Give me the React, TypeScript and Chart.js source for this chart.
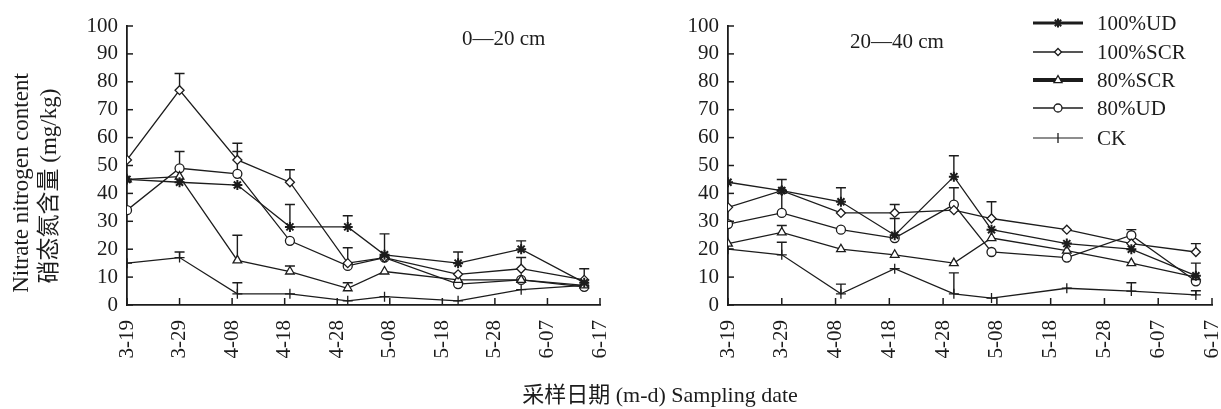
import React, { useEffect, useRef } from 'react';
import { Chart, registerables } from 'chart.js';

Chart.register(...registerables);

// ---------- data ----------
const sampleDates = ['3-19', '3-29', '4-09', '4-19', '4-30', '5-07', '5-21', '6-02', '6-14'];
const tickLabels = ['3-19', '3-29', '4-08', '4-18', '4-28', '5-08', '5-18', '5-28', '6-07', '6-17'];
const yTickValues = [0, 10, 20, 30, 40, 50, 60, 70, 80, 90, 100];
const seriesNames = ['100%UD', '100%SCR', '80%SCR', '80%UD', 'CK'];

// 0—20 cm
const ud100Top = [45, 44, 43, 28, 28, 18, 15, 20, 8];
const scr100Top = [52, 77, 52, 44, 15, 17, 11, 13, 9];
const scr80Top = [45, 46, 16, 12, 6, 12, 9, 9, 7];
const ud80Top = [34, 49, 47, 23, 14, 17, 7.5, 9, 6.5];
const ckTop = [15, 17, 4, 4, 1.5, 3, 1.5, 5.5, 7];

const ud100TopErr = [0, 0, 0, 8, 4, 7.5, 4, 3, 0];
const scr100TopErr = [0, 6, 6, 4.5, 5.5, 0, 0, 4, 4];
const scr80TopErr = [0, 0, 9, 2, 2, 0, 0, 0, 0];
const ud80TopErr = [0, 6, 8, 0, 0, 0, 0, 0, 0];
const ckTopErr = [0, 2, 4, 0, 0, 0, 0, 0, 0];

// 20—40 cm
const ud100Sub = [44, 41, 37, 25, 46, 27, 22, 20, 10.5];
const scr100Sub = [35, 41, 33, 33, 34, 31, 27, 22, 19];
const scr80Sub = [22, 26, 20, 18, 15, 24, 19.5, 15, 10];
const ud80Sub = [29, 33, 27, 24, 36, 19, 17, 25, 8.5];
const ckSub = [20, 18, 4, 13, 4, 2.5, 6, 5, 3.6];

const ud100SubErr = [0, 4, 5, 6, 7.5, 0, 0, 0, 4.5];
const scr100SubErr = [0, 0, 0, 3, 0, 6, 0, 0, 3];
const scr80SubErr = [0, 2.5, 0, 0, 0, 0, 0, 0, 0];
const ud80SubErr = [0, 7, 0, 0, 6, 0, 0, 2, 0];
const ckSubErr = [0, 4.5, 3.5, 0, 7.5, 0, 0, 3, 1.5];

const yTitleLines = ['Nitrate nitrogen content', '硝态氮含量 (mg/kg)'];
const xTitle = '采样日期 (m-d) Sampling date';
const depthTop = '0—20 cm';
const depthSub = '20—40 cm';

// ---------- styles ----------
const FONT = "'Liberation Serif', 'Times New Roman', 'Noto Sans CJK SC', serif";
const INK = '#1c1c1c';
const pointStyles = ['star', 'rectRot', 'triangle', 'circle', 'cross'];
const pointRadii = [5, 4.5, 5, 4.5, 5];
const pointWidths = [2, 1.3, 1.3, 1.3, 1.3];
const legendLineWidths = [3, 1.5, 4, 1.5, 1.2];
const legendRadii = [4.5, 3.5, 4.5, 4, 5];

function dayOf(md: string): number {
  const [m, d] = md.split('-').map(Number);
  const start = [0, 0, 0, -19, 12, 42, 73];
  return start[m] + d;
}

function drawMarker(ctx: CanvasRenderingContext2D, style: string, x: number, y: number, r: number) {
  ctx.beginPath();
  if (style === 'circle') {
    ctx.arc(x, y, r, 0, Math.PI * 2);
    ctx.fill();
    ctx.stroke();
  } else if (style === 'rectRot') {
    ctx.moveTo(x, y - r);
    ctx.lineTo(x + r, y);
    ctx.lineTo(x, y + r);
    ctx.lineTo(x - r, y);
    ctx.closePath();
    ctx.fill();
    ctx.stroke();
  } else if (style === 'triangle') {
    ctx.moveTo(x, y - r);
    ctx.lineTo(x + r * 0.9, y + r * 0.6);
    ctx.lineTo(x - r * 0.9, y + r * 0.6);
    ctx.closePath();
    ctx.fill();
    ctx.stroke();
  } else if (style === 'star') {
    for (let k = 0; k < 4; k++) {
      const a = (k * Math.PI) / 4;
      ctx.moveTo(x - Math.cos(a) * r, y - Math.sin(a) * r);
      ctx.lineTo(x + Math.cos(a) * r, y + Math.sin(a) * r);
    }
    ctx.stroke();
  } else {
    ctx.moveTo(x, y - r);
    ctx.lineTo(x, y + r);
    ctx.stroke();
  }
}

type PanelSpec = {
  values: number[][];
  errors: number[][];
  depth: string;
  depthX: number;
  depthY: number;
  yWidth: number;
  padRight: number;
  showYTitle: boolean;
  showLegend: boolean;
};

function makeConfig(p: PanelSpec): any {
  const errorBars = {
    id: 'errorBars',
    beforeDatasetsDraw(chart: any) {
      const ctx = chart.ctx;
      const ys = chart.scales.y;
      ctx.save();
      ctx.strokeStyle = INK;
      ctx.lineWidth = 1.4;
      chart.data.datasets.forEach((ds: any, di: number) => {
        const meta = chart.getDatasetMeta(di);
        ds.data.forEach((pt: any, i: number) => {
          const e = ds.errors ? ds.errors[i] : 0;
          if (!e) return;
          const x = meta.data[i].x;
          const y0 = ys.getPixelForValue(pt.y);
          const y1 = ys.getPixelForValue(pt.y + e);
          ctx.beginPath();
          ctx.moveTo(x, y0);
          ctx.lineTo(x, y1);
          ctx.moveTo(x - 5, y1);
          ctx.lineTo(x + 5, y1);
          ctx.stroke();
        });
      });
      ctx.restore();
    },
  };

  const decorations = {
    id: 'decorations',
    afterDraw(chart: any) {
      const ctx = chart.ctx;
      const xs = chart.scales.x;
      const ys = chart.scales.y;
      const area = chart.chartArea;
      ctx.save();
      ctx.strokeStyle = INK;
      ctx.lineWidth = 1.5;
      // inward tick marks
      ys.ticks.forEach((t: any) => {
        const y = ys.getPixelForValue(t.value);
        ctx.beginPath();
        ctx.moveTo(area.left, y);
        ctx.lineTo(area.left + 6, y);
        ctx.stroke();
      });
      xs.ticks.forEach((t: any) => {
        const x = xs.getPixelForValue(t.value);
        ctx.beginPath();
        ctx.moveTo(x, area.bottom);
        ctx.lineTo(x, area.bottom - 7);
        ctx.stroke();
      });
      // depth label
      ctx.fillStyle = INK;
      ctx.font = `21px ${FONT}`;
      ctx.textAlign = 'left';
      ctx.textBaseline = 'middle';
      ctx.fillText(p.depth, p.depthX, p.depthY);
      // y title
      if (p.showYTitle) {
        const pos = [
          [22, 183],
          [50, 186],
        ];
        yTitleLines.forEach((line, i) => {
          ctx.save();
          ctx.translate(pos[i][0], pos[i][1]);
          ctx.rotate(-Math.PI / 2);
          ctx.textAlign = 'center';
          ctx.textBaseline = 'middle';
          ctx.font = `23px ${FONT}`;
          ctx.fillText(line, 0, 0);
          ctx.restore();
        });
      }
      // legend
      if (p.showLegend) {
        const rows = [23, 52, 80, 108, 138];
        const x1 = 418;
        const x2 = 468;
        seriesNames.forEach((name, i) => {
          const y = rows[i];
          ctx.lineWidth = legendLineWidths[i];
          ctx.beginPath();
          ctx.moveTo(x1, y);
          ctx.lineTo(x2, y);
          ctx.stroke();
          ctx.lineWidth = i === 0 ? 2 : 1.3;
          ctx.fillStyle = '#fff';
          drawMarker(ctx, pointStyles[i], (x1 + x2) / 2, y, legendRadii[i]);
          ctx.fillStyle = INK;
          ctx.font = `21px ${FONT}`;
          ctx.textAlign = 'left';
          ctx.textBaseline = 'middle';
          ctx.fillText(name, 482, y + 1);
        });
      }
      ctx.restore();
    },
  };

  return {
    type: 'line',
    data: {
      datasets: seriesNames.map((name, s) => ({
        label: name,
        data: sampleDates.map((d, i) => ({ x: dayOf(d), y: p.values[s][i] })),
        errors: p.errors[s],
        borderColor: INK,
        borderWidth: 1.3,
        pointStyle: pointStyles[s],
        pointRadius: pointRadii[s],
        pointBorderWidth: pointWidths[s],
        pointBackgroundColor: '#fff',
        pointBorderColor: INK,
        tension: 0,
        fill: false,
      })),
    },
    options: {
      animation: false,
      responsive: false,
      maintainAspectRatio: false,
      layout: { padding: { left: 0, top: 26, right: p.padRight, bottom: 0 } },
      plugins: { legend: { display: false }, tooltip: { enabled: false } },
      scales: {
        x: {
          type: 'linear',
          min: 0,
          max: 90,
          afterBuildTicks: (scale: any) => {
            scale.ticks = tickLabels.map((l) => ({ value: dayOf(l) }));
          },
          ticks: {
            autoSkip: false,
            minRotation: 90,
            maxRotation: 90,
            padding: 15,
            color: INK,
            font: { family: FONT, size: 21 },
            callback: (v: number) => tickLabels.find((l) => dayOf(l) === v) ?? '',
          },
          grid: { display: false, drawTicks: false },
          border: { display: true, color: INK, width: 1.8 },
          afterFit: (scale: any) => {
            scale.height = 104;
            scale.paddingLeft = 0;
            scale.paddingRight = 0;
          },
        },
        y: {
          min: 0,
          max: 100,
          afterBuildTicks: (scale: any) => {
            scale.ticks = yTickValues.map((v) => ({ value: v }));
          },
          ticks: {
            autoSkip: false,
            stepSize: 10,
            padding: 9,
            color: INK,
            font: { family: FONT, size: 21 },
          },
          grid: { display: false, drawTicks: false },
          border: { display: true, color: INK, width: 1.8 },
          afterFit: (scale: any) => {
            scale.width = p.yWidth;
            scale.paddingTop = 0;
            scale.paddingBottom = 0;
          },
        },
      },
    },
    plugins: [errorBars, decorations],
  };
}

export default function App() {
  const leftRef = useRef<HTMLCanvasElement>(null);
  const rightRef = useRef<HTMLCanvasElement>(null);

  useEffect(() => {
    const left = new Chart(
      leftRef.current as HTMLCanvasElement,
      makeConfig({
        values: [ud100Top, scr100Top, scr80Top, ud80Top, ckTop],
        errors: [ud100TopErr, scr100TopErr, scr80TopErr, ud80TopErr, ckTopErr],
        depth: depthTop,
        depthX: 462,
        depthY: 39,
        yWidth: 127,
        padRight: 15,
        showYTitle: true,
        showLegend: false,
      })
    );
    const right = new Chart(
      rightRef.current as HTMLCanvasElement,
      makeConfig({
        values: [ud100Sub, scr100Sub, scr80Sub, ud80Sub, ckSub],
        errors: [ud100SubErr, scr100SubErr, scr80SubErr, ud80SubErr, ckSubErr],
        depth: depthSub,
        depthX: 235,
        depthY: 42,
        yWidth: 113,
        padRight: 9,
        showYTitle: false,
        showLegend: true,
      })
    );
    return () => {
      left.destroy();
      right.destroy();
    };
  }, []);

  return (
    <div
      style={{
        position: 'absolute',
        left: 0,
        top: 0,
        width: 1221,
        height: 409,
        background: '#fff',
        overflow: 'hidden',
      }}
    >
      <canvas
        ref={leftRef}
        width={615}
        height={409}
        style={{ position: 'absolute', left: 0, top: 0, width: 615, height: 409 }}
      />
      <canvas
        ref={rightRef}
        width={606}
        height={409}
        style={{ position: 'absolute', left: 615, top: 0, width: 606, height: 409 }}
      />
      <div
        style={{
          position: 'absolute',
          left: 660,
          top: 382,
          transform: 'translateX(-50%)',
          whiteSpace: 'nowrap',
          fontFamily: FONT,
          fontSize: 22,
          lineHeight: '26px',
          color: INK,
        }}
      >
        {xTitle}
      </div>
    </div>
  );
}
